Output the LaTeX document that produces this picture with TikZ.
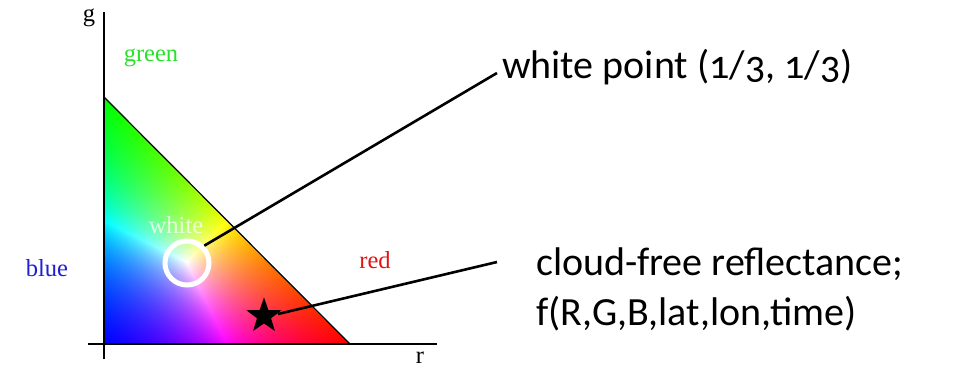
\documentclass[tikz,border=0pt]{standalone}
\usepackage{fontspec}
\setmainfont{Carlito}[Numbers=OldStyle]
\newfontfamily\labfont{Liberation Serif}
\usetikzlibrary{shapes.geometric}
\pgfdeclarefunctionalshading{chroma}{\pgfpoint{-50bp}{-50bp}}{\pgfpoint{50bp}{50bp}}{}{
  25 add 50 div dup 0 lt {pop 0} if dup 1 gt {pop 1} if
  exch
  25 add 50 div dup 0 lt {pop 0} if dup 1 gt {pop 1} if
  exch
  2 copy add 1 exch sub dup 0 lt {pop 0} if
  3 copy 2 copy lt {exch} if pop 2 copy lt {exch} if pop
  dup 0.001 lt {pop 1} if
  3 index 1 index div
  3 index 2 index div
  3 index 3 index div
  7 3 roll pop pop pop pop
}
\definecolor{lgreen}{RGB}{40,225,40}
\definecolor{lblue}{RGB}{30,30,215}
\definecolor{lred}{RGB}{225,20,20}
\tikzset{
  axis/.style={line width=1.6pt, black},
  axlab/.style={font=\labfont\fontsize{24.5}{24.5}\selectfont, inner sep=0pt},
  callout/.style={line width=2.6pt, black},
  bigtext/.style={font=\fontsize{40}{50}\selectfont, inner sep=0pt, align=left, anchor=base west},
}
\begin{document}
\begin{tikzpicture}[x=1pt,y=1pt]
\useasboundingbox (0,0) rectangle (954,368);
% colour triangle
\coordinate (tg) at (104,271);
\coordinate (tb) at (104,24);
\coordinate (tr) at (350,24);
\shade[shading=chroma] (tg) -- (tb) -- (tr) -- cycle;
\draw[line width=1.2pt] (tg) -- (tr);
% axes
\coordinate (ytop) at (104,356);
\coordinate (ybot) at (104,9);
\coordinate (xl) at (88,24);
\coordinate (xr) at (437,24);
\draw[axis] (ybot) -- (ytop);
\draw[axis] (xl) -- (xr);
% labels
\node[axlab] (g) at (89,350) {g};
\node[axlab, anchor=base] (r) at (420,5) {r};
\node[axlab, text=lgreen] (green) at (151,310) {green};
\node[axlab, text=lblue] (blue) at (47,100) {blue};
\node[axlab, text=lred] (red) at (375,108) {red};
\node[axlab, text=white, text opacity=0.75] (white) at (176,143) {white};
% white point
\node[circle, draw=white, line width=5pt, minimum size=44pt, inner sep=0pt] (wp) at (187,105) {};
% star
\node[star, star points=5, star point ratio=2.5, fill=black, minimum size=37pt, inner sep=0pt] (st) at (264,52) {};
% texts
\node[bigtext] (t1) at (502,290) {white point (1/3, 1/3)};
\node[bigtext] (t2) at (536,43) {cloud-free reflectance;\\f(R,G,B,lat,lon,time)};
\coordinate (c1) at (497,295);
\coordinate (c2) at (497,106);
\draw[callout] (wp.45) -- (c1);
\draw[callout] (st.center) ++(14,2) coordinate (sa) (sa) -- (c2);
\end{tikzpicture}
\end{document}
